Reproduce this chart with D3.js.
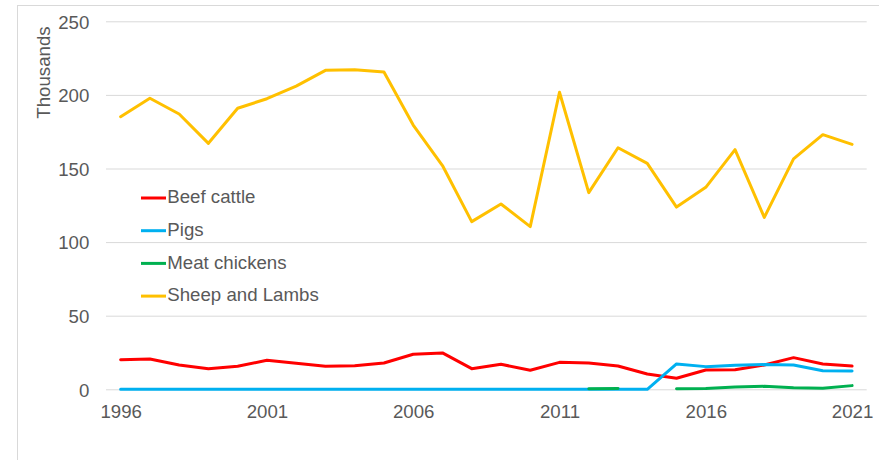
<!DOCTYPE html>
<html>
<head>
<meta charset="utf-8">
<script src="https://cdn.jsdelivr.net/npm/d3@7"></script>
<style>
  html, body { margin: 0; padding: 0; background: #fff; }
  svg { display: block; font-family: "Liberation Sans", Arial, sans-serif; }
</style>
</head>
<body>
<div id="chart"></div>
<script>
const years = d3.range(1996, 2022).map(String);
const tickYears = ['1996', '2001', '2006', '2011', '2016', '2021'];
const yTicks = [0, 50, 100, 150, 200, 250];

const beef = [20.1, 20.6, 16.5, 14.0, 15.6, 19.7, 17.7, 15.6, 16.0, 17.9, 23.8, 24.7, 14.0,
  17.0, 12.9, 18.3, 17.9, 15.8, 10.4, 7.5, 13.1, 13.3, 16.5, 21.5, 17.2, 15.8];
const pigs = [0, 0, 0, 0, 0, 0, 0, 0, 0, 0, 0, 0, 0, 0, 0, 0, 0, 0, 0,
  17.2, 15.4, 16.3, 16.8, 16.5, 12.6, 12.4];
const chickens = [null, null, null, null, null, null, null, null, null, null, null, null, null,
  null, null, null, 0.3, 0.5, null, 0.4, 0.5, 1.5, 2.0, 1.1, 0.7, 2.5];
const sheep = [185.2, 197.7, 187.0, 167.1, 190.9, 197.4, 206.0, 216.7, 217.1, 215.6, 179.5, 152.0,
  113.9, 125.9, 110.5, 201.8, 133.6, 164.1, 153.5, 123.8, 137.2, 162.8, 116.8, 156.5, 173.0, 166.4];

const series = [
  { name: 'Beef cattle', values: beef, color: '#FF0000' },
  { name: 'Pigs', values: pigs, color: '#00B0F0' },
  { name: 'Meat chickens', values: chickens, color: '#00B050' },
  { name: 'Sheep and Lambs', values: sheep, color: '#FFC000' }
];

const W = 879, H = 460;
const plotL = 106, plotR = 866.7, plotT = 21.3, plotB = 389.3;
const textColor = '#595959';
const fontSize = '18.67px';
const fontFamily = '"Liberation Sans", Arial, sans-serif';

const svg = d3.select('#chart').append('svg')
  .attr('width', W).attr('height', H);

// chart frame (runs past the window on the right and bottom)
svg.append('rect')
  .attr('x', 17.5).attr('y', 5.5)
  .attr('width', 900).attr('height', 500)
  .attr('fill', 'none').attr('stroke', '#D9D9D9').attr('stroke-width', 1);

const x = d3.scalePoint().domain(years).range([plotL, plotR]).padding(0.5);
const y = d3.scaleLinear().domain([0, 250]).range([plotB, plotT]);

// y axis with gridlines
const yAxis = svg.append('g')
  .attr('transform', `translate(${plotL},0)`)
  .call(d3.axisLeft(y).tickValues(yTicks).tickSize(-(plotR - plotL)).tickPadding(16.7));
yAxis.select('.domain').remove();
yAxis.selectAll('line').attr('stroke', '#D9D9D9').attr('stroke-width', 1);
yAxis.selectAll('text').attr('fill', textColor).attr('font-size', fontSize)
  .attr('font-family', fontFamily).attr('dy', '0.36em');

// x axis
const xAxis = svg.append('g')
  .attr('transform', `translate(0,${plotB})`)
  .call(d3.axisBottom(x).tickValues(tickYears).tickSize(0).tickPadding(15.4));
xAxis.select('.domain').remove();
xAxis.selectAll('text').attr('fill', textColor).attr('font-size', fontSize)
  .attr('font-family', fontFamily);

// y axis title
svg.append('text')
  .attr('transform', 'translate(43.5,72.5) rotate(-90)')
  .attr('text-anchor', 'middle').attr('dy', '0.35em')
  .attr('fill', textColor).attr('font-size', fontSize)
  .text('Thousands');

// lines
series.forEach(s => {
  const line = d3.line()
    .defined(d => d != null)
    .x((d, i) => x(years[i]))
    .y(d => y(d));
  svg.append('path')
    .datum(s.values)
    .attr('d', line)
    .attr('fill', 'none')
    .attr('stroke', s.color)
    .attr('stroke-width', 3)
    .attr('stroke-linejoin', 'round')
    .attr('stroke-linecap', 'round');
});

// legend
const legend = svg.append('g').attr('transform', 'translate(141,198)');
series.forEach((s, i) => {
  const g = legend.append('g').attr('transform', `translate(0,${i * 32.7})`);
  g.append('line')
    .attr('x1', 0).attr('x2', 25).attr('y1', 0).attr('y2', 0)
    .attr('stroke', s.color).attr('stroke-width', 3);
  g.append('text')
    .attr('x', 26.3).attr('y', 0).attr('dy', '0.28em')
    .attr('fill', textColor).attr('font-size', fontSize)
    .text(s.name);
});
</script>
</body>
</html>
